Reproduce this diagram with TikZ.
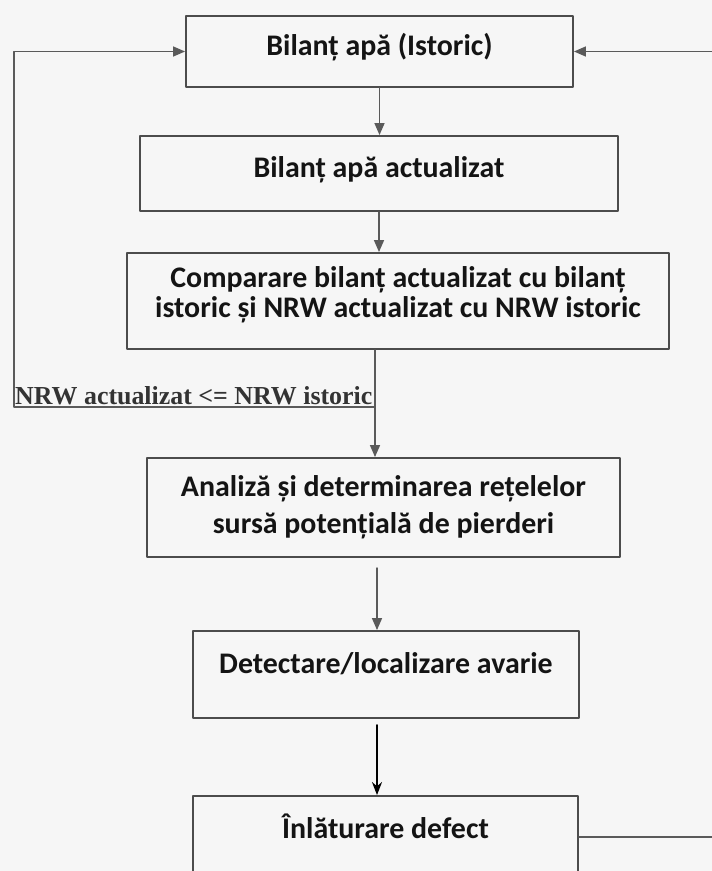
\documentclass[tikz,border=0pt]{standalone}
\usepackage{fontspec}
\setmainfont{Carlito}
\newfontfamily\timesfont{Liberation Serif}
\usetikzlibrary{arrows.meta}

\definecolor{scanbg}{HTML}{F6F6F6}
\definecolor{boxline}{HTML}{4C4C4C}
\definecolor{arrowline}{HTML}{5A5A5A}

\tikzset{
  flowbox/.style={draw=boxline,line width=1.9bp,inner sep=0pt,align=center,
    text=black!92,font=\bfseries\fontsize{30}{30}\selectfont},
  flowline/.style={draw=arrowline,line width=1.5bp},
  flowtip/.style={-{Triangle[length=12bp,width=10bp]}},
}

\begin{document}
\begin{tikzpicture}[x=1bp,y=-1bp,line cap=round,line join=round]
        \fill[scanbg] (0,0) rectangle (712,871);
        \useasboundingbox (0,0) rectangle (712,871);
        % boxes, top to bottom
        \node[flowbox,minimum width=387bp,minimum height=71bp,text height=22bp,text depth=14bp]
            (istoric) at (379.5,51.5) {Bilanț apă (Istoric)};
        \node[flowbox,minimum width=478bp,minimum height=75bp,text height=22bp,text depth=14bp]
            (actual) at (379,173.5) {Bilanț apă actualizat};
        \node[flowbox,minimum width=542bp,minimum height=96bp,text depth=18bp]
            (compare) at (398,301) {Comparare bilanț actualizat cu bilanț\\istoric și NRW actualizat cu NRW istoric};
        \node[flowbox,minimum width=473bp,minimum height=99bp,font=\bfseries\fontsize{30}{37}\selectfont]
            (analiza) at (383.5,507.5) {Analiză și determinarea rețelelor\\sursă potențială de pierderi};
        \node[flowbox,minimum width=386bp,minimum height=87bp,text height=22bp,text depth=24bp]
            (detect) at (386,674.5) {Detectare/localizare avarie};
        \node[flowbox,minimum width=385bp,minimum height=86bp,text height=22bp,text depth=23bp]
            (defect) at (385.5,839) {Înlăturare defect};
        % condition on the return branch
        \node[anchor=base west,inner sep=0pt,text=black!80,
              font=\timesfont\bfseries\fontsize{26}{26}\selectfont]
            (cond) at (15,404) {NRW actualizat <= NRW istoric};
        \coordinate (split) at (375,407);
        \coordinate (lcorner) at (14,407);
        \coordinate (rcorner) at (714,837);
        \coordinate (gap4) at (377,568);
        \coordinate (gap5) at (377,725);
        % main flow
        \draw[flowline,flowtip] (istoric.south) -- (istoric.south |- actual.north);
        \draw[flowline,flowtip] (actual.south) -- (actual.south |- compare.north);
        \draw[flowline,flowtip] (compare.south -| split) -- (split |- analiza.north);
        \draw[flowline,flowtip] (gap4) -- (gap4 |- detect.north);
        \draw[line width=1.9bp,-{Stealth[length=13bp,width=10bp]}] (gap5) -- (gap5 |- defect.north);
        % loops back to the first box
        \draw[flowline,flowtip] (split) -- (lcorner) |- (istoric.west);
        \draw[flowline,flowtip] (defect.east |- rcorner) -- (rcorner) |- (istoric.east);
\end{tikzpicture}
\end{document}
